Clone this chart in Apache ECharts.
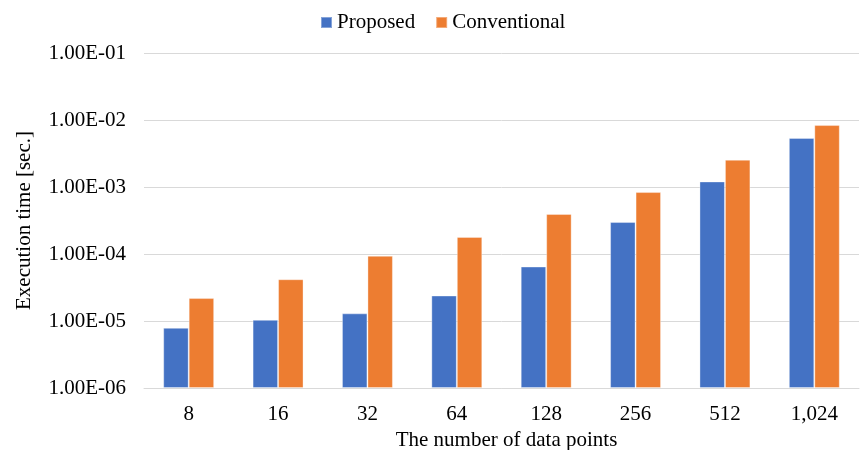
<!DOCTYPE html>
<html>
<head>
<meta charset="utf-8">
<script src="https://cdn.jsdelivr.net/npm/echarts@6/dist/echarts.min.js"></script>
<style>
  html, body { margin: 0; padding: 0; background: #fff; }
  #chart { width: 861px; height: 450px; }
</style>
</head>
<body>
<div id="chart"></div>
<script>
// Execution time vs. number of data points (log scale), values in seconds
const categories = ['8', '16', '32', '64', '128', '256', '512', '1,024'];
const proposed = [7.9e-6, 1.04e-5, 1.3e-5, 2.4e-5, 6.5e-5, 3.0e-4, 1.21e-3, 5.4e-3];
const conventional = [2.2e-5, 4.2e-5, 9.4e-5, 1.8e-4, 3.95e-4, 8.4e-4, 2.55e-3, 8.4e-3];
const yTicks = [1e-6, 1e-5, 1e-4, 1e-3, 1e-2, 1e-1];

// Bars on a log axis grow from value 1, so the axis is plotted in
// microseconds (1 us = bottom of the axis) and labelled back in seconds.
const US = 1e6;
const toUs = v => v * US;

const FONT = '"Liberation Serif", "Times New Roman", serif';

function sciLabel(v) {
  const exp = Math.round(Math.log10(v));
  const mant = v / Math.pow(10, exp);
  const sign = exp < 0 ? '-' : '+';
  const e = String(Math.abs(exp)).padStart(2, '0');
  return mant.toFixed(2) + 'E' + sign + e;
}

const chart = echarts.init(document.getElementById('chart'));
chart.setOption({
  animation: false,
  color: ['#4472C4', '#ED7D31'],
  textStyle: { fontFamily: FONT },
  legend: {
    top: 7,
    left: 315,
    itemWidth: 11,
    itemHeight: 11,
    itemGap: 20,
    icon: 'rect',
    textStyle: { fontFamily: FONT, fontSize: 21, color: '#000' },
    data: ['Proposed', 'Conventional']
  },
  grid: {
    left: 144, right: 2, top: 53, bottom: 62,
    containLabel: false,
    outerBoundsMode: 'none'
  },
  xAxis: {
    type: 'category',
    data: categories,
    name: 'The number of data points',
    nameLocation: 'middle',
    nameGap: 42,
    nameTextStyle: { fontFamily: FONT, fontSize: 21, color: '#000', padding: [0, 0, 0, 10] },
    axisLine: { lineStyle: { color: '#d9d9d9', width: 1 } },
    axisTick: { show: false },
    axisLabel: { fontFamily: FONT, fontSize: 21, color: '#000', margin: 16 }
  },
  yAxis: {
    type: 'log',
    logBase: 10,
    min: toUs(yTicks[0]),
    max: toUs(yTicks[yTicks.length - 1]),
    name: 'Execution time [sec.]',
    nameLocation: 'middle',
    nameGap: 109,
    nameTextStyle: { fontFamily: FONT, fontSize: 21, color: '#000' },
    axisLine: { show: false },
    axisTick: { show: false },
    splitLine: { lineStyle: { color: '#d9d9d9', width: 1 } },
    axisLabel: {
      fontFamily: FONT, fontSize: 21, color: '#000', margin: 18,
      formatter: v => sciLabel(v / US)
    }
  },
  series: [
    {
      name: 'Proposed',
      type: 'bar',
      data: proposed.map(toUs),
      barGap: '0%',
      barCategoryGap: '43%',
      itemStyle: { borderColor: 'rgba(255,255,255,0.35)', borderWidth: 1 }
    },
    {
      name: 'Conventional',
      type: 'bar',
      data: conventional.map(toUs),
      itemStyle: { borderColor: 'rgba(255,255,255,0.35)', borderWidth: 1 }
    }
  ]
});
</script>
</body>
</html>
